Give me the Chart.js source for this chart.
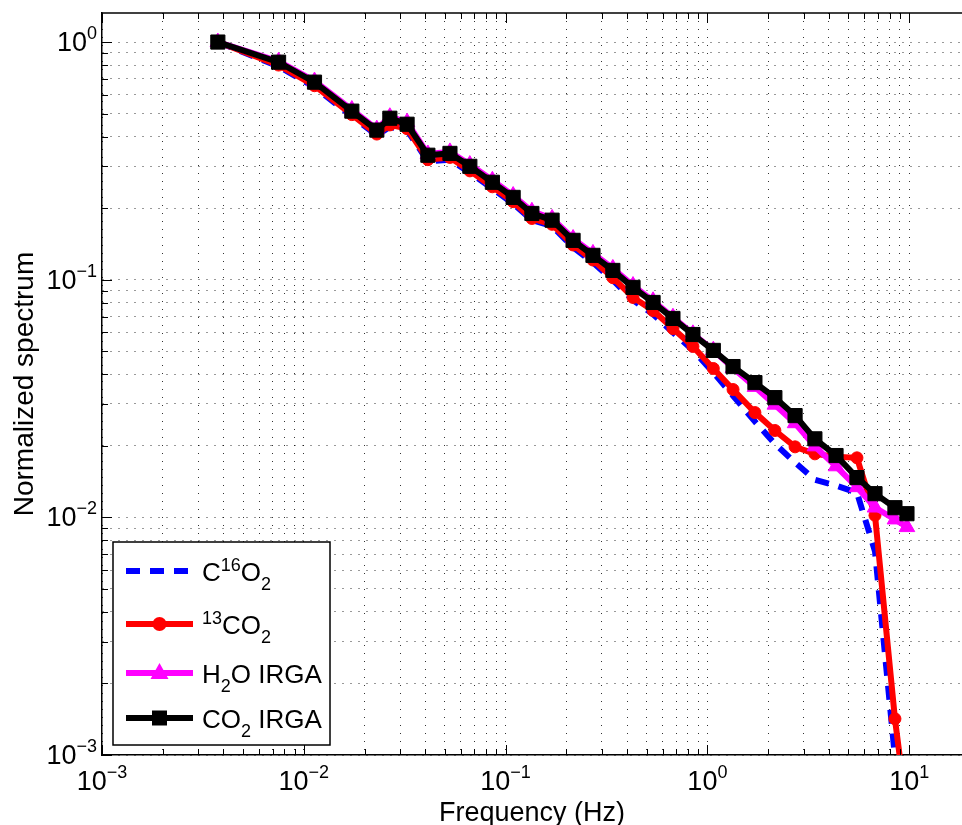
<!DOCTYPE html>
<html>
<head>
<meta charset="utf-8">
<script src="https://cdn.jsdelivr.net/npm/chart.js@4.4.1/dist/chart.umd.min.js"></script>
<style>
  html, body { margin: 0; background: #fff; }
  #grafico { display: block; }
</style>
</head>
<body>
<canvas id="grafico" width="962" height="825"></canvas>
<script>
// datos
const freq = [0.00375, 0.0075, 0.0113, 0.0173, 0.023, 0.0267, 0.0325, 0.0412, 0.053, 0.0665,
  0.086, 0.109, 0.135, 0.17, 0.216, 0.271, 0.34, 0.428, 0.538, 0.675,
  0.848, 1.07, 1.34, 1.72, 2.16, 2.72, 3.41, 4.34, 5.51, 6.77, 8.5, 9.75];
const c16o2 = [1.0, 0.79, 0.645, 0.488, 0.405, 0.44, 0.425, 0.315, 0.32, 0.282,
  0.242, 0.209, 0.178, 0.168, 0.137, 0.118, 0.0995, 0.082, 0.0715, 0.060,
  0.0505, 0.0407, 0.0325, 0.0253, 0.0204, 0.0170, 0.0144, 0.0136, 0.0127, 0.0072, 0.00098, 0.0004];
const c13o2 = [1.0, 0.80, 0.655, 0.495, 0.41, 0.448, 0.432, 0.32, 0.327, 0.287,
  0.246, 0.213, 0.181, 0.171, 0.140, 0.121, 0.102, 0.0842, 0.0742, 0.0623,
  0.0524, 0.0423, 0.0345, 0.0276, 0.0232, 0.0198, 0.0185, 0.0180, 0.0178, 0.0102, 0.00142, 0.00057];
const h2oIrga = [1.0, 0.83, 0.685, 0.52, 0.43, 0.485, 0.46, 0.338, 0.345, 0.305,
  0.262, 0.226, 0.194, 0.181, 0.149, 0.129, 0.1115, 0.0945, 0.0815, 0.0695,
  0.0592, 0.0505, 0.0425, 0.0354, 0.0298, 0.0249, 0.0199, 0.0164, 0.0134, 0.0110, 0.0098, 0.0091];
const co2Irga = [1.0, 0.823, 0.678, 0.512, 0.426, 0.478, 0.451, 0.334, 0.340, 0.300,
  0.257, 0.222, 0.190, 0.178, 0.1464, 0.1266, 0.1094, 0.0928, 0.0802, 0.0687,
  0.0588, 0.0504, 0.0431, 0.0369, 0.0319, 0.0268, 0.0214, 0.0182, 0.0147, 0.01258, 0.01098, 0.01036];

// etiquetas de ejes (exponentes de 10)
const xTickExps = [-3, -2, -1, 0, 1];
const yTickExps = [-3, -2, -1, 0];
const xTitle = 'Frequency (Hz)';
const yTitle = 'Normalized spectrum';

// nombres con super/subindices: [texto, modo]
const legendParts = [
  [['C', ''], ['16', 'sup'], ['O', ''], ['2', 'sub']],
  [['13', 'sup'], ['CO', ''], ['2', 'sub']],
  [['H', ''], ['2', 'sub'], ['O IRGA', '']],
  [['CO', ''], ['2', 'sub'], [' IRGA', '']]
];

const FONT = '"Liberation Sans", Arial, Helvetica, sans-serif';

const puntos = serie => freq.map((f, i) => ({ x: f, y: serie[i] }));

function logTicks(min, max) {
  const out = [];
  for (let e = Math.floor(Math.log10(min)); e <= Math.ceil(Math.log10(max)); e++) {
    for (let m = 1; m <= 9; m++) {
      const v = m * Math.pow(10, e);
      if (v >= min * 0.999 && v <= max * 1.001) out.push(v);
    }
  }
  return out;
}
const esDecada = v => Math.abs(Math.log10(v) - Math.round(Math.log10(v))) < 1e-9;
const expTxt = e => (e < 0 ? '\u2212' + (-e) : String(e));

function textoRico(ctx, parts, x, y, size, supDy, subDy) {
  for (const [txt, mode] of parts) {
    const fs = mode ? Math.round(size * 0.68) : size;
    ctx.font = `${fs}px ${FONT}`;
    const dy = mode === 'sup' ? supDy : mode === 'sub' ? subDy : 0;
    ctx.fillText(txt, x, y + dy);
    x += ctx.measureText(txt).width;
  }
  return x;
}

function marcador(ctx, estilo, x, y, color) {
  ctx.fillStyle = color;
  ctx.beginPath();
  if (estilo === 'circle') {
    ctx.arc(x, y, 7, 0, Math.PI * 2);
  } else if (estilo === 'triangle') {
    ctx.moveTo(x, y - 10); ctx.lineTo(x + 9, y + 6); ctx.lineTo(x - 9, y + 6); ctx.closePath();
  } else if (estilo === 'rect') {
    ctx.rect(x - 7.5, y - 7.5, 15, 15);
  }
  if (estilo) ctx.fill();
}

const ejesMatlab = {
  id: 'ejesMatlab',
  afterDraw(chart) {
    const { ctx, chartArea: a, scales: { x, y } } = chart;
    ctx.save();
    // linea superior
    ctx.strokeStyle = '#000';
    ctx.lineWidth = 1.5;
    ctx.beginPath(); ctx.moveTo(a.left, a.top); ctx.lineTo(a.right, a.top); ctx.stroke();

    // ticks hacia adentro
    ctx.lineWidth = 1;
    ctx.beginPath();
    x.ticks.forEach(t => {
      const px = Math.round(x.getPixelForValue(t.value)) + 0.5;
      const len = esDecada(t.value) ? 10 : 6;
      ctx.moveTo(px, a.bottom); ctx.lineTo(px, a.bottom - len);
      ctx.moveTo(px, a.top); ctx.lineTo(px, a.top + len);
    });
    y.ticks.forEach(t => {
      const py = Math.round(y.getPixelForValue(t.value)) + 0.5;
      const len = esDecada(t.value) ? 10 : 6;
      ctx.moveTo(a.left, py); ctx.lineTo(a.left + len, py);
    });
    ctx.stroke();

    // etiquetas 10^n
    ctx.fillStyle = '#000';
    ctx.textBaseline = 'alphabetic';
    ctx.textAlign = 'left';
    const base = 27, sup = 18;
    xTickExps.forEach(e => {
      const px = x.getPixelForValue(Math.pow(10, e));
      ctx.font = `${base}px ${FONT}`;
      const w1 = ctx.measureText('10').width;
      ctx.font = `${sup}px ${FONT}`;
      const w2 = ctx.measureText(expTxt(e)).width;
      const x0 = px - (w1 + w2) / 2;
      ctx.font = `${base}px ${FONT}`;
      ctx.fillText('10', x0, a.bottom + 35);
      ctx.font = `${sup}px ${FONT}`;
      ctx.fillText(expTxt(e), x0 + w1, a.bottom + 23);
    });
    yTickExps.forEach(e => {
      const py = y.getPixelForValue(Math.pow(10, e));
      ctx.font = `${base}px ${FONT}`;
      const w1 = ctx.measureText('10').width;
      ctx.font = `${sup}px ${FONT}`;
      const w2 = ctx.measureText(expTxt(e)).width;
      const x0 = a.left - 5 - w1 - w2;
      ctx.font = `${base}px ${FONT}`;
      ctx.fillText('10', x0, py + 9);
      ctx.font = `${sup}px ${FONT}`;
      ctx.fillText(expTxt(e), x0 + w1, py - 3);
    });

    // titulos de ejes
    ctx.font = `27px ${FONT}`;
    ctx.textAlign = 'center';
    ctx.fillText(xTitle, (a.left + a.right) / 2, 821);
    ctx.save();
    ctx.translate(33, (a.top + a.bottom) / 2);
    ctx.rotate(-Math.PI / 2);
    ctx.font = `28px ${FONT}`;
    ctx.fillText(yTitle, 0, 0);
    ctx.restore();

    // leyenda
    const lx = 113, ly = 542, lw = 217, lh = 203;
    const filas = [571, 624, 673, 718];
    ctx.fillStyle = '#fff';
    ctx.fillRect(lx, ly, lw, lh);
    ctx.strokeStyle = '#000';
    ctx.lineWidth = 1.5;
    ctx.strokeRect(lx, ly, lw, lh);
    ctx.textAlign = 'left';
    chart.data.datasets.forEach((ds, i) => {
      const ry = filas[i];
      ctx.strokeStyle = ds.borderColor;
      ctx.lineWidth = ds.borderWidth;
      ctx.setLineDash(ds.borderDash || []);
      ctx.beginPath(); ctx.moveTo(126, ry); ctx.lineTo(193, ry); ctx.stroke();
      ctx.setLineDash([]);
      if (ds.pointRadius > 0) marcador(ctx, ds.pointStyle, 159.5, ry, ds.borderColor);
      ctx.fillStyle = '#000';
      textoRico(ctx, legendParts[i], 202, ry + 10, 26, -10, 9);
    });
    ctx.restore();
  }
};

const ejeLog = (min, max) => ({
  type: 'logarithmic',
  min: min,
  max: max,
  afterBuildTicks: s => { s.ticks = logTicks(min, max).map(v => ({ value: v })); },
  ticks: { display: false, autoSkip: false },
  grid: { color: 'rgba(0,0,0,0.8)', lineWidth: 1, drawTicks: false, tickLength: 0 },
  border: { display: true, color: '#000', width: 1.5, dash: [1, 7] }
});

const escalaX = ejeLog(1e-3, 18.27);
escalaX.afterFit = s => { s.height = 70; };
const escalaY = ejeLog(1e-3, 1.325);
escalaY.afterFit = s => { s.width = 102; };

new Chart(document.getElementById('grafico'), {
  type: 'line',
  data: {
    datasets: [
      {
        label: 'C16O2',
        data: puntos(c16o2),
        borderColor: '#0000ff',
        borderWidth: 6,
        borderDash: [14, 10],
        pointRadius: 0,
        order: 4
      },
      {
        label: '13CO2',
        data: puntos(c13o2),
        borderColor: '#ff0000',
        backgroundColor: '#ff0000',
        borderWidth: 6,
        pointStyle: 'circle',
        pointRadius: 6,
        pointBorderWidth: 1,
        order: 3
      },
      {
        label: 'H2O IRGA',
        data: puntos(h2oIrga),
        borderColor: '#ff00ff',
        backgroundColor: '#ff00ff',
        borderWidth: 6,
        pointStyle: 'triangle',
        pointRadius: 9,
        pointBorderWidth: 1,
        order: 2
      },
      {
        label: 'CO2 IRGA',
        data: puntos(co2Irga),
        borderColor: '#000000',
        backgroundColor: '#000000',
        borderWidth: 6,
        pointStyle: 'rect',
        pointRadius: 10,
        pointBorderWidth: 1,
        order: 1
      }
    ]
  },
  options: {
    responsive: false,
    animation: false,
    events: [],
    layout: { autoPadding: false, padding: { top: 13, right: 0, bottom: 0, left: 0 } },
    scales: { x: escalaX, y: escalaY },
    plugins: {
      legend: { display: false },
      tooltip: { enabled: false },
      title: { display: false }
    }
  },
  plugins: [ejesMatlab]
});
</script>
</body>
</html>
